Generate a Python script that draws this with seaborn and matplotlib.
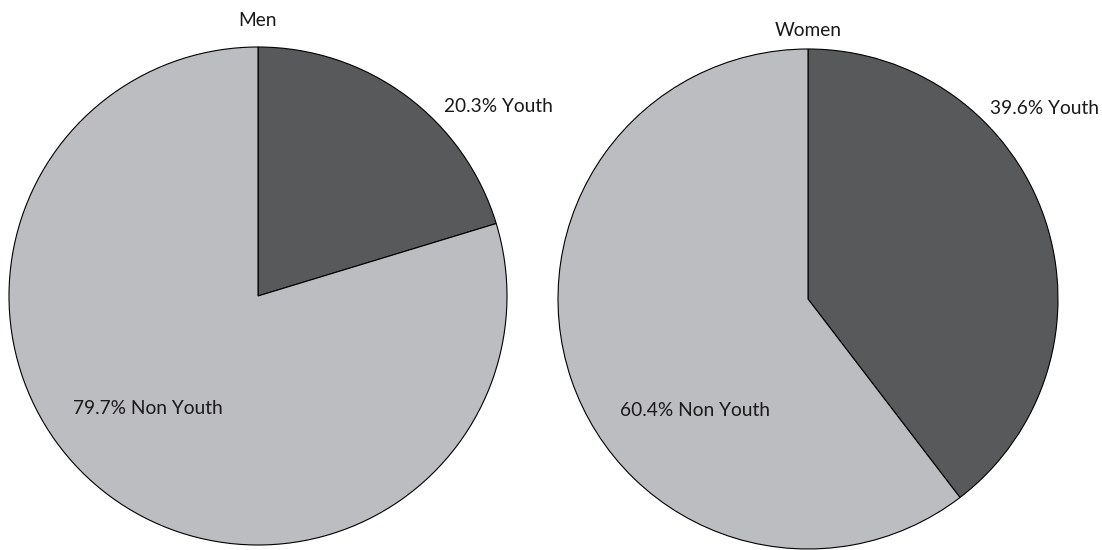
import matplotlib
matplotlib.use('Agg')
import matplotlib.pyplot as plt
import seaborn as sns

sns.set_style('white')
plt.rcParams['font.family'] = ['Lato', 'DejaVu Sans']

groups = ['Men', 'Women']
categories = ['Youth', 'Non Youth']
men_share = [20.3, 79.7]
women_share = [39.6, 60.4]
pie_colors = ['#58595b', '#bcbdc0']
text_color = '#1a1a1a'

fig = plt.figure(figsize=[11.02, 5.5], dpi=100)

def draw_pie(rect, values, title, title_y, label_pos):
    ax = fig.add_axes(rect)
    ax.pie(values, colors=pie_colors, startangle=90, counterclock=False,
           wedgeprops=dict(edgecolor='black', linewidth=0.8))
    ax.set_aspect('equal')
    ax.set_xlim(-1, 1)
    ax.set_ylim(-1, 1)
    ax.text(0, title_y, title, ha='center', va='center', fontsize=13.8,
            color=text_color)
    for cat, val, (x, y) in zip(categories, values, label_pos):
        ax.text(x, y, f'{val:.1f}% {cat}', ha='left', va='center',
                fontsize=13.8, color=text_color)
    return ax

draw_pie([9/1102, 5/550, 498/1102, 498/550], men_share, groups[0], 1.108,
         [(0.747, 0.76), (-0.743, -0.45)])
draw_pie([558/1102, 1/550, 500/1102, 500/550], women_share, groups[1], 1.076,
         [(0.726, 0.76), (-0.752, -0.445)])

fig.savefig('out.png', dpi=100)
